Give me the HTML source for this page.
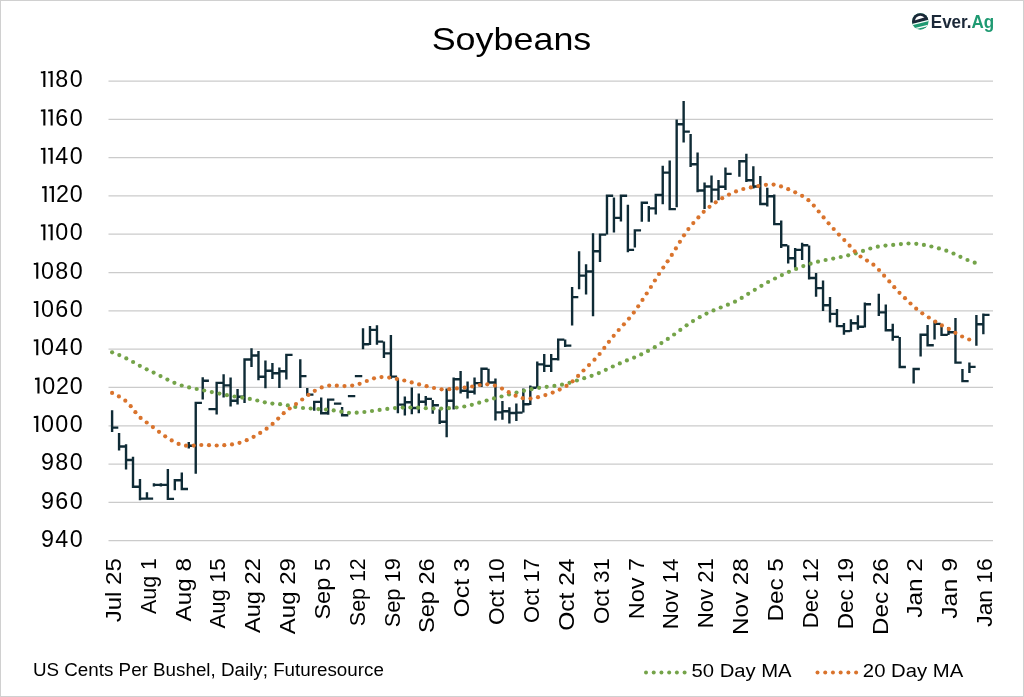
<!DOCTYPE html>
<html><head><meta charset="utf-8"><style>
html,body{margin:0;padding:0;background:#fff;}
body{width:1024px;height:697px;overflow:hidden;position:relative;}
svg{position:absolute;left:0;top:0;will-change:transform;}
text{font-family:"Liberation Sans",sans-serif;fill:#000;}
</style></head><body>
<svg width="1024" height="697" viewBox="0 0 1024 697">
<rect x="0.5" y="0.5" width="1023" height="696" fill="#fff" stroke="#d0d0d0" stroke-width="1"/>
<g stroke="#cbcbcb" stroke-width="1.25"><line x1="108.5" x2="993" y1="81.00" y2="81.00"/><line x1="108.5" x2="993" y1="119.31" y2="119.31"/><line x1="108.5" x2="993" y1="157.62" y2="157.62"/><line x1="108.5" x2="993" y1="195.93" y2="195.93"/><line x1="108.5" x2="993" y1="234.24" y2="234.24"/><line x1="108.5" x2="993" y1="272.55" y2="272.55"/><line x1="108.5" x2="993" y1="310.86" y2="310.86"/><line x1="108.5" x2="993" y1="349.17" y2="349.17"/><line x1="108.5" x2="993" y1="387.48" y2="387.48"/><line x1="108.5" x2="993" y1="425.79" y2="425.79"/><line x1="108.5" x2="993" y1="464.10" y2="464.10"/><line x1="108.5" x2="993" y1="502.41" y2="502.41"/><line x1="108.5" x2="993" y1="540.72" y2="540.72"/></g>
<path d="M112.10 410.3V432.0M110.90 427.6H118.30M119.07 433.1V450.5M117.87 446.5H125.27M126.04 444.2V469.4M124.84 460.0H132.24M133.01 456.8V486.8M131.81 486.8H139.21M139.98 478.9V500.2M138.78 498.6H146.18M146.95 492.3V498.6M145.75 498.6H153.15M153.92 483.3V486.5M152.72 484.9H160.12M160.89 483.3V486.5M159.69 484.9H167.09M167.86 468.9V498.9M166.66 498.9H174.06M174.83 480.3V490.3M173.63 480.3H181.03M181.80 472.6V489.0M180.60 489.0H188.00M188.77 442.0V448.6M187.57 445.8H194.97M195.74 402.9V473.8M194.54 402.9H201.94M202.71 377.2V399.4M201.51 380.8H208.91M209.68 408.1V410.1M208.48 409.1H215.88M216.65 382.5V414.4M215.45 382.9H222.85M223.62 374.3V397.6M222.42 385.4H229.82M230.59 377.5V406.6M229.39 400.8H236.79M237.56 389.0V404.4M236.36 396.8H243.76M244.53 358.9V403.1M243.33 359.5H250.73M251.50 348.3V367.0M250.30 355.5H257.70M258.47 350.9V380.2M257.27 376.7H264.67M265.44 360.4V388.2M264.24 370.8H271.64M272.41 363.0V379.0M271.21 373.3H278.61M279.38 367.5V388.0M278.18 371.2H285.58M286.35 354.9V379.6M285.15 354.9H292.55M300.29 359.3V388.0M299.09 376.1H306.49M307.26 388.1V395.1M306.06 394.6H313.46M314.23 401.6V410.7M313.03 401.9H320.43M321.20 397.6V413.7M320.00 413.2H327.40M328.17 399.6V414.7M326.97 399.6H334.37M335.14 402.6V404.6M333.94 403.6H341.34M342.11 407.1V415.2M340.91 415.2H348.31M349.08 395.1V397.1M347.88 396.1H355.28M356.05 375.1V377.1M354.85 376.1H362.25M363.02 328.2V349.2M361.82 344.3H369.22M369.99 325.9V345.1M368.79 329.9H376.19M376.96 325.3V344.8M375.76 341.6H383.16M383.93 341.4V358.0M382.73 353.4H390.13M390.90 335.1V378.7M389.70 376.6H397.10M397.87 378.2V413.2M396.67 404.6H404.07M404.84 396.6V415.5M403.64 402.3H411.04M411.81 387.4V414.3M410.61 408.0H418.01M418.78 393.5V413.2M417.58 401.7H424.98M425.75 396.0V405.7M424.55 398.9H431.95M432.72 400.0V413.8M431.52 405.2H438.92M439.69 409.2V424.1M438.49 421.8H445.89M446.66 388.5V437.3M445.46 400.8H452.86M453.63 377.5V409.5M452.43 379.3H459.83M460.60 371.1V393.4M459.40 390.8H466.80M467.57 381.6V398.6M466.37 391.7H473.77M474.54 377.4V394.6M473.34 383.1H480.74M481.51 368.5V387.1M480.31 368.8H487.71M488.48 368.8V382.5M487.28 382.5H494.68M495.45 378.5V420.4M494.25 412.4H501.65M502.42 400.9V419.8M501.22 411.2H508.62M509.39 407.2V423.6M508.19 413.0H515.59M516.36 403.5V420.9M515.16 412.6H522.56M523.33 388.5V412.6M522.13 404.3H529.53M530.30 385.5V405.0M529.10 387.7H536.50M537.27 361.4V387.7M536.07 364.4H543.47M544.24 353.9V371.9M543.04 365.9H550.44M551.21 353.9V371.9M550.01 359.1H557.41M558.18 339.6V360.6M556.98 339.6H564.38M565.15 339.6V347.1M563.95 345.6H571.35M572.12 287.1V325.6M570.92 297.1H578.32M579.09 251.3V289.2M577.89 275.6H585.29M586.06 264.2V294.4M584.86 271.5H592.26M593.03 233.3V316.3M591.83 251.3H599.23M600.00 234.6V262.1M598.80 234.6H606.20M606.97 195.8V234.6M605.77 195.8H613.17M613.94 197.5V232.5M612.74 217.9H620.14M620.91 195.8V221.5M619.71 195.8H627.11M627.88 204.8V252.3M626.68 249.9H634.08M634.85 230.4V247.4M633.65 230.4H641.05M641.82 202.3V221.8M640.62 202.8H648.02M648.79 206.0V221.8M647.59 208.4H654.99M655.76 195.0V214.5M654.56 195.0H661.96M662.73 165.7V204.3M661.53 172.6H668.93M669.70 160.4V209.6M668.50 209.1H675.90M676.67 119.4V207.2M675.47 124.3H682.87M683.64 101.1V142.5M682.44 131.6H689.84M690.61 134.0V167.0M689.41 164.3H696.81M697.58 152.6V192.2M696.38 190.5H703.78M704.55 182.5V208.9M703.35 186.5H710.75M711.52 175.6V202.5M710.32 189.6H717.72M718.49 179.9V200.2M717.29 186.8H724.69M725.46 167.5V189.9M724.26 173.9H731.66M739.40 160.7V176.7M738.20 161.2H745.60M746.37 153.8V181.9M745.17 180.2H752.57M753.34 166.2V188.6M752.14 186.5H759.54M760.31 176.0V204.0M759.11 204.0H766.51M767.28 187.7V206.6M766.08 196.3H773.48M774.25 194.6V224.7M773.05 224.1H780.45M781.22 220.4V247.9M780.02 245.3H787.42M788.19 245.3V263.4M786.99 258.2H794.39M795.16 247.9V267.7M793.96 249.9H801.36M802.13 242.7V259.9M800.93 245.3H808.33M809.10 245.5V279.4M807.90 278.0H815.30M816.07 273.0V296.7M814.87 288.1H822.27M823.04 280.5V311.0M821.84 305.3H829.24M830.01 297.1V322.5M828.81 313.9H836.21M836.98 308.9V327.2M835.78 326.1H843.18M843.95 322.9V334.7M842.75 331.1H850.15M850.92 319.2V331.8M849.72 323.2H857.12M857.89 315.3V329.7M856.69 326.8H864.09M864.86 302.4V327.5M863.66 304.3H871.06M878.80 293.7V315.9M877.60 312.4H885.00M885.77 304.6V330.9M884.57 330.2H891.97M892.74 323.8V340.7M891.54 336.9H898.94M899.71 336.9V367.0M898.51 367.0H905.91M913.65 368.5V383.6M912.45 369.0H919.85M920.62 334.7V356.5M919.42 334.7H926.82M927.59 325.0V345.2M926.39 345.2H933.79M934.56 320.7V339.4M933.36 323.9H940.76M941.53 325.2V335.5M940.33 334.9H947.73M948.50 327.1V334.9M947.30 332.3H954.70M955.47 318.1V362.6M954.27 362.6H961.67M962.44 369.1V381.4M961.24 381.1H968.64M969.41 362.6V373.0M968.21 366.9H975.61M976.38 314.9V345.8M975.18 324.3H982.58M983.35 313.6V334.2M982.15 314.9H989.55" stroke="#0f2b36" stroke-width="2.4" fill="none"/>
<g fill="#74a349"><circle cx="112.1" cy="352.3" r="2.1"/><circle cx="119.3" cy="355.1" r="2.1"/><circle cx="126.3" cy="358.4" r="2.1"/><circle cx="133.1" cy="362.0" r="2.1"/><circle cx="139.8" cy="365.8" r="2.1"/><circle cx="146.7" cy="369.3" r="2.1"/><circle cx="153.6" cy="372.6" r="2.1"/><circle cx="160.5" cy="376.1" r="2.1"/><circle cx="167.4" cy="379.6" r="2.1"/><circle cx="174.4" cy="382.8" r="2.1"/><circle cx="181.7" cy="385.5" r="2.1"/><circle cx="189.1" cy="387.4" r="2.1"/><circle cx="196.7" cy="389.0" r="2.1"/><circle cx="204.2" cy="390.5" r="2.1"/><circle cx="211.8" cy="392.1" r="2.1"/><circle cx="219.4" cy="393.6" r="2.1"/><circle cx="226.9" cy="395.2" r="2.1"/><circle cx="234.5" cy="396.5" r="2.1"/><circle cx="242.2" cy="397.6" r="2.1"/><circle cx="249.8" cy="398.9" r="2.1"/><circle cx="257.3" cy="400.5" r="2.1"/><circle cx="264.8" cy="402.3" r="2.1"/><circle cx="272.4" cy="403.6" r="2.1"/><circle cx="280.1" cy="404.2" r="2.1"/><circle cx="287.8" cy="405.4" r="2.1"/><circle cx="295.3" cy="407.0" r="2.1"/><circle cx="303.0" cy="408.0" r="2.1"/><circle cx="310.7" cy="408.5" r="2.1"/><circle cx="318.4" cy="409.1" r="2.1"/><circle cx="326.0" cy="409.6" r="2.1"/><circle cx="333.7" cy="410.4" r="2.1"/><circle cx="341.3" cy="411.7" r="2.1"/><circle cx="349.0" cy="412.8" r="2.1"/><circle cx="356.7" cy="412.7" r="2.1"/><circle cx="364.4" cy="412.0" r="2.1"/><circle cx="372.0" cy="411.0" r="2.1"/><circle cx="379.6" cy="409.9" r="2.1"/><circle cx="387.3" cy="408.9" r="2.1"/><circle cx="395.0" cy="408.1" r="2.1"/><circle cx="402.7" cy="407.6" r="2.1"/><circle cx="410.4" cy="407.5" r="2.1"/><circle cx="418.1" cy="407.7" r="2.1"/><circle cx="425.8" cy="408.2" r="2.1"/><circle cx="433.5" cy="408.6" r="2.1"/><circle cx="441.2" cy="408.6" r="2.1"/><circle cx="448.9" cy="408.2" r="2.1"/><circle cx="456.6" cy="407.5" r="2.1"/><circle cx="464.3" cy="406.5" r="2.1"/><circle cx="471.8" cy="404.8" r="2.1"/><circle cx="479.2" cy="402.7" r="2.1"/><circle cx="486.6" cy="400.5" r="2.1"/><circle cx="494.0" cy="398.4" r="2.1"/><circle cx="501.5" cy="396.5" r="2.1"/><circle cx="509.0" cy="394.5" r="2.1"/><circle cx="516.5" cy="392.6" r="2.1"/><circle cx="524.0" cy="390.8" r="2.1"/><circle cx="531.5" cy="389.2" r="2.1"/><circle cx="539.1" cy="387.8" r="2.1"/><circle cx="546.7" cy="386.8" r="2.1"/><circle cx="554.4" cy="385.9" r="2.1"/><circle cx="562.0" cy="384.7" r="2.1"/><circle cx="569.5" cy="382.8" r="2.1"/><circle cx="576.9" cy="380.5" r="2.1"/><circle cx="584.2" cy="378.2" r="2.1"/><circle cx="591.6" cy="375.8" r="2.1"/><circle cx="598.8" cy="373.1" r="2.1"/><circle cx="605.8" cy="369.8" r="2.1"/><circle cx="612.8" cy="366.5" r="2.1"/><circle cx="619.8" cy="363.4" r="2.1"/><circle cx="626.9" cy="360.4" r="2.1"/><circle cx="634.1" cy="357.6" r="2.1"/><circle cx="641.2" cy="354.4" r="2.1"/><circle cx="648.0" cy="350.9" r="2.1"/><circle cx="654.8" cy="347.2" r="2.1"/><circle cx="661.4" cy="343.1" r="2.1"/><circle cx="667.8" cy="338.9" r="2.1"/><circle cx="674.1" cy="334.5" r="2.1"/><circle cx="680.3" cy="329.9" r="2.1"/><circle cx="686.6" cy="325.3" r="2.1"/><circle cx="693.0" cy="321.1" r="2.1"/><circle cx="699.7" cy="317.2" r="2.1"/><circle cx="706.5" cy="313.6" r="2.1"/><circle cx="713.5" cy="310.4" r="2.1"/><circle cx="720.7" cy="307.5" r="2.1"/><circle cx="727.9" cy="304.7" r="2.1"/><circle cx="735.0" cy="301.7" r="2.1"/><circle cx="741.7" cy="297.9" r="2.1"/><circle cx="748.2" cy="293.8" r="2.1"/><circle cx="754.8" cy="289.8" r="2.1"/><circle cx="761.4" cy="285.8" r="2.1"/><circle cx="768.1" cy="282.0" r="2.1"/><circle cx="775.0" cy="278.5" r="2.1"/><circle cx="781.9" cy="275.1" r="2.1"/><circle cx="788.9" cy="271.8" r="2.1"/><circle cx="796.1" cy="268.9" r="2.1"/><circle cx="803.3" cy="266.1" r="2.1"/><circle cx="810.6" cy="263.7" r="2.1"/><circle cx="818.0" cy="261.7" r="2.1"/><circle cx="825.6" cy="260.0" r="2.1"/><circle cx="833.2" cy="258.6" r="2.1"/><circle cx="840.7" cy="257.0" r="2.1"/><circle cx="848.2" cy="255.3" r="2.1"/><circle cx="855.7" cy="253.3" r="2.1"/><circle cx="863.0" cy="250.9" r="2.1"/><circle cx="870.3" cy="248.5" r="2.1"/><circle cx="877.8" cy="246.7" r="2.1"/><circle cx="885.5" cy="245.6" r="2.1"/><circle cx="893.2" cy="244.9" r="2.1"/><circle cx="900.9" cy="244.1" r="2.1"/><circle cx="908.5" cy="243.5" r="2.1"/><circle cx="916.3" cy="243.8" r="2.1"/><circle cx="923.9" cy="244.9" r="2.1"/><circle cx="931.4" cy="246.5" r="2.1"/><circle cx="938.9" cy="248.4" r="2.1"/><circle cx="946.3" cy="250.7" r="2.1"/><circle cx="953.5" cy="253.5" r="2.1"/><circle cx="960.4" cy="256.8" r="2.1"/><circle cx="967.5" cy="260.0" r="2.1"/><circle cx="974.7" cy="262.7" r="2.1"/></g>
<g fill="#d9732c"><circle cx="112.1" cy="392.9" r="2.1"/><circle cx="118.9" cy="396.4" r="2.1"/><circle cx="125.3" cy="400.7" r="2.1"/><circle cx="130.7" cy="406.2" r="2.1"/><circle cx="135.4" cy="412.2" r="2.1"/><circle cx="140.6" cy="417.9" r="2.1"/><circle cx="146.7" cy="422.5" r="2.1"/><circle cx="152.9" cy="427.1" r="2.1"/><circle cx="159.0" cy="431.8" r="2.1"/><circle cx="165.2" cy="436.3" r="2.1"/><circle cx="171.7" cy="440.4" r="2.1"/><circle cx="178.6" cy="443.9" r="2.1"/><circle cx="186.0" cy="445.7" r="2.1"/><circle cx="193.7" cy="445.6" r="2.1"/><circle cx="201.3" cy="445.0" r="2.1"/><circle cx="209.0" cy="445.2" r="2.1"/><circle cx="216.7" cy="445.5" r="2.1"/><circle cx="224.3" cy="445.2" r="2.1"/><circle cx="232.0" cy="444.4" r="2.1"/><circle cx="239.5" cy="442.8" r="2.1"/><circle cx="246.7" cy="440.2" r="2.1"/><circle cx="253.6" cy="436.8" r="2.1"/><circle cx="260.2" cy="432.9" r="2.1"/><circle cx="266.6" cy="428.7" r="2.1"/><circle cx="272.6" cy="423.9" r="2.1"/><circle cx="278.2" cy="418.6" r="2.1"/><circle cx="283.7" cy="413.2" r="2.1"/><circle cx="289.7" cy="408.5" r="2.1"/><circle cx="296.0" cy="404.1" r="2.1"/><circle cx="302.2" cy="399.5" r="2.1"/><circle cx="308.4" cy="394.9" r="2.1"/><circle cx="314.8" cy="390.8" r="2.1"/><circle cx="321.7" cy="387.4" r="2.1"/><circle cx="329.2" cy="385.6" r="2.1"/><circle cx="336.8" cy="385.7" r="2.1"/><circle cx="344.5" cy="386.1" r="2.1"/><circle cx="352.2" cy="385.6" r="2.1"/><circle cx="359.6" cy="383.8" r="2.1"/><circle cx="366.8" cy="381.0" r="2.1"/><circle cx="374.0" cy="378.3" r="2.1"/><circle cx="381.5" cy="377.1" r="2.1"/><circle cx="389.2" cy="377.6" r="2.1"/><circle cx="396.8" cy="378.9" r="2.1"/><circle cx="404.3" cy="380.5" r="2.1"/><circle cx="411.7" cy="382.4" r="2.1"/><circle cx="419.1" cy="384.4" r="2.1"/><circle cx="426.6" cy="386.2" r="2.1"/><circle cx="434.0" cy="388.0" r="2.1"/><circle cx="441.6" cy="389.3" r="2.1"/><circle cx="449.3" cy="389.2" r="2.1"/><circle cx="456.9" cy="388.4" r="2.1"/><circle cx="464.6" cy="387.6" r="2.1"/><circle cx="472.2" cy="386.5" r="2.1"/><circle cx="479.7" cy="385.0" r="2.1"/><circle cx="487.3" cy="384.3" r="2.1"/><circle cx="494.9" cy="385.6" r="2.1"/><circle cx="502.0" cy="388.6" r="2.1"/><circle cx="508.7" cy="392.2" r="2.1"/><circle cx="515.6" cy="395.7" r="2.1"/><circle cx="522.8" cy="398.2" r="2.1"/><circle cx="530.5" cy="398.6" r="2.1"/><circle cx="538.0" cy="397.2" r="2.1"/><circle cx="545.4" cy="395.1" r="2.1"/><circle cx="552.7" cy="392.6" r="2.1"/><circle cx="559.7" cy="389.6" r="2.1"/><circle cx="566.5" cy="385.9" r="2.1"/><circle cx="572.6" cy="381.3" r="2.1"/><circle cx="578.1" cy="375.9" r="2.1"/><circle cx="583.5" cy="370.5" r="2.1"/><circle cx="589.0" cy="365.1" r="2.1"/><circle cx="594.5" cy="359.7" r="2.1"/><circle cx="599.6" cy="354.0" r="2.1"/><circle cx="604.3" cy="347.9" r="2.1"/><circle cx="608.9" cy="341.8" r="2.1"/><circle cx="613.7" cy="335.8" r="2.1"/><circle cx="618.7" cy="330.0" r="2.1"/><circle cx="623.9" cy="324.3" r="2.1"/><circle cx="629.0" cy="318.6" r="2.1"/><circle cx="633.8" cy="312.6" r="2.1"/><circle cx="638.2" cy="306.3" r="2.1"/><circle cx="642.5" cy="299.9" r="2.1"/><circle cx="646.7" cy="293.5" r="2.1"/><circle cx="650.9" cy="287.0" r="2.1"/><circle cx="654.9" cy="280.5" r="2.1"/><circle cx="659.0" cy="274.0" r="2.1"/><circle cx="663.3" cy="267.6" r="2.1"/><circle cx="667.6" cy="261.3" r="2.1"/><circle cx="671.8" cy="254.9" r="2.1"/><circle cx="675.9" cy="248.4" r="2.1"/><circle cx="679.9" cy="241.8" r="2.1"/><circle cx="684.0" cy="235.3" r="2.1"/><circle cx="688.4" cy="229.1" r="2.1"/><circle cx="693.3" cy="223.1" r="2.1"/><circle cx="698.4" cy="217.4" r="2.1"/><circle cx="703.7" cy="211.8" r="2.1"/><circle cx="709.5" cy="206.8" r="2.1"/><circle cx="715.7" cy="202.3" r="2.1"/><circle cx="722.2" cy="198.2" r="2.1"/><circle cx="729.0" cy="194.6" r="2.1"/><circle cx="736.0" cy="191.4" r="2.1"/><circle cx="743.3" cy="189.0" r="2.1"/><circle cx="750.8" cy="187.4" r="2.1"/><circle cx="758.3" cy="186.1" r="2.1"/><circle cx="765.9" cy="184.8" r="2.1"/><circle cx="773.6" cy="184.6" r="2.1"/><circle cx="781.0" cy="186.4" r="2.1"/><circle cx="788.2" cy="189.2" r="2.1"/><circle cx="795.2" cy="192.3" r="2.1"/><circle cx="802.1" cy="195.8" r="2.1"/><circle cx="808.4" cy="200.2" r="2.1"/><circle cx="813.8" cy="205.6" r="2.1"/><circle cx="818.7" cy="211.5" r="2.1"/><circle cx="823.6" cy="217.4" r="2.1"/><circle cx="828.6" cy="223.3" r="2.1"/><circle cx="833.7" cy="229.0" r="2.1"/><circle cx="838.9" cy="234.6" r="2.1"/><circle cx="844.3" cy="240.1" r="2.1"/><circle cx="849.6" cy="245.7" r="2.1"/><circle cx="854.8" cy="251.3" r="2.1"/><circle cx="860.5" cy="256.5" r="2.1"/><circle cx="867.0" cy="260.6" r="2.1"/><circle cx="873.4" cy="264.7" r="2.1"/><circle cx="879.0" cy="270.0" r="2.1"/><circle cx="884.1" cy="275.7" r="2.1"/><circle cx="889.3" cy="281.4" r="2.1"/><circle cx="894.3" cy="287.2" r="2.1"/><circle cx="899.5" cy="292.8" r="2.1"/><circle cx="905.0" cy="298.2" r="2.1"/><circle cx="910.5" cy="303.5" r="2.1"/><circle cx="916.2" cy="308.7" r="2.1"/><circle cx="922.3" cy="313.3" r="2.1"/><circle cx="928.8" cy="317.5" r="2.1"/><circle cx="935.3" cy="321.6" r="2.1"/><circle cx="941.9" cy="325.4" r="2.1"/><circle cx="948.8" cy="328.9" r="2.1"/><circle cx="955.4" cy="332.8" r="2.1"/><circle cx="962.1" cy="336.5" r="2.1"/><circle cx="969.2" cy="339.5" r="2.1"/></g>
<text x="431.69" textLength="159.59" lengthAdjust="spacingAndGlyphs" y="49.7" style="font-size:32px">Soybeans</text>
<g style="font-size:23.3px" text-anchor="middle"><text x="61.85" y="87.20">8</text><text x="76.25" y="87.20">0</text><text x="61.85" y="125.51">6</text><text x="76.25" y="125.51">0</text><text x="61.85" y="163.82">4</text><text x="76.25" y="163.82">0</text><text x="62.45" y="202.13">2</text><text x="76.25" y="202.13">0</text><text x="61.85" y="240.44">0</text><text x="76.25" y="240.44">0</text><text x="47.45" y="278.75">0</text><text x="61.85" y="278.75">8</text><text x="76.25" y="278.75">0</text><text x="47.45" y="317.06">0</text><text x="61.85" y="317.06">6</text><text x="76.25" y="317.06">0</text><text x="47.45" y="355.37">0</text><text x="61.85" y="355.37">4</text><text x="76.25" y="355.37">0</text><text x="48.65" y="393.68">0</text><text x="62.45" y="393.68">2</text><text x="76.25" y="393.68">0</text><text x="47.45" y="431.99">0</text><text x="61.85" y="431.99">0</text><text x="76.25" y="431.99">0</text><text x="47.45" y="470.30">9</text><text x="61.85" y="470.30">8</text><text x="76.25" y="470.30">0</text><text x="47.45" y="508.61">9</text><text x="61.85" y="508.61">6</text><text x="76.25" y="508.61">0</text><text x="47.45" y="546.92">9</text><text x="61.85" y="546.92">4</text><text x="76.25" y="546.92">0</text></g><path d="M43.30 71.05H45.40V87.10H43.30ZM40.85 71.45L43.35 71.05V72.95L40.85 73.25ZM50.60 71.05H52.70V87.10H50.60ZM48.15 71.45L50.65 71.05V72.95L48.15 73.25ZM43.30 109.36H45.40V125.41H43.30ZM40.85 109.76L43.35 109.36V111.26L40.85 111.56ZM50.60 109.36H52.70V125.41H50.60ZM48.15 109.76L50.65 109.36V111.26L48.15 111.56ZM43.30 147.67H45.40V163.72H43.30ZM40.85 148.07L43.35 147.67V149.57L40.85 149.87ZM50.60 147.67H52.70V163.72H50.60ZM48.15 148.07L50.65 147.67V149.57L48.15 149.87ZM44.50 185.98H46.60V202.03H44.50ZM42.05 186.38L44.55 185.98V187.88L42.05 188.18ZM51.80 185.98H53.90V202.03H51.80ZM49.35 186.38L51.85 185.98V187.88L49.35 188.18ZM43.30 224.29H45.40V240.34H43.30ZM40.85 224.69L43.35 224.29V226.19L40.85 226.49ZM50.60 224.29H52.70V240.34H50.60ZM48.15 224.69L50.65 224.29V226.19L48.15 226.49ZM36.20 262.60H38.30V278.65H36.20ZM33.75 263.00L36.25 262.60V264.50L33.75 264.80ZM36.20 300.91H38.30V316.96H36.20ZM33.75 301.31L36.25 300.91V302.81L33.75 303.11ZM36.20 339.22H38.30V355.27H36.20ZM33.75 339.62L36.25 339.22V341.12L33.75 341.42ZM37.40 377.53H39.50V393.58H37.40ZM34.95 377.93L37.45 377.53V379.43L34.95 379.73ZM36.20 415.84H38.30V431.89H36.20ZM33.75 416.24L36.25 415.84V417.74L33.75 418.04Z" fill="#000"/>
<g style="font-size:22.5px" text-anchor="end"><text transform="translate(120.8,558.15) rotate(-90)" textLength="64.11" lengthAdjust="spacingAndGlyphs">Jul 25</text><text transform="translate(155.6,558.17) rotate(-90)" textLength="55.83" lengthAdjust="spacingAndGlyphs">Aug 1</text><text transform="translate(190.5,558.15) rotate(-90)" textLength="63.25" lengthAdjust="spacingAndGlyphs">Aug 8</text><text transform="translate(225.3,558.32) rotate(-90)" textLength="70.28" lengthAdjust="spacingAndGlyphs">Aug 15</text><text transform="translate(260.2,558.15) rotate(-90)" textLength="74.95" lengthAdjust="spacingAndGlyphs">Aug 22</text><text transform="translate(295.1,558.13) rotate(-90)" textLength="76.07" lengthAdjust="spacingAndGlyphs">Aug 29</text><text transform="translate(329.9,558.18) rotate(-90)" textLength="61.38" lengthAdjust="spacingAndGlyphs">Sep 5</text><text transform="translate(364.7,558.25) rotate(-90)" textLength="67.92" lengthAdjust="spacingAndGlyphs">Sep 12</text><text transform="translate(399.6,558.23) rotate(-90)" textLength="69.15" lengthAdjust="spacingAndGlyphs">Sep 19</text><text transform="translate(434.4,558.27) rotate(-90)" textLength="74.79" lengthAdjust="spacingAndGlyphs">Sep 26</text><text transform="translate(469.3,558.22) rotate(-90)" textLength="59.20" lengthAdjust="spacingAndGlyphs">Oct 3</text><text transform="translate(504.1,558.39) rotate(-90)" textLength="66.73" lengthAdjust="spacingAndGlyphs">Oct 10</text><text transform="translate(539.0,558.19) rotate(-90)" textLength="64.69" lengthAdjust="spacingAndGlyphs">Oct 17</text><text transform="translate(573.9,558.57) rotate(-90)" textLength="72.24" lengthAdjust="spacingAndGlyphs">Oct 24</text><text transform="translate(608.7,558.18) rotate(-90)" textLength="65.83" lengthAdjust="spacingAndGlyphs">Oct 31</text><text transform="translate(643.6,558.09) rotate(-90)" textLength="61.18" lengthAdjust="spacingAndGlyphs">Nov 7</text><text transform="translate(678.4,558.56) rotate(-90)" textLength="70.72" lengthAdjust="spacingAndGlyphs">Nov 14</text><text transform="translate(713.2,558.13) rotate(-90)" textLength="70.04" lengthAdjust="spacingAndGlyphs">Nov 21</text><text transform="translate(748.1,558.14) rotate(-90)" textLength="76.90" lengthAdjust="spacingAndGlyphs">Nov 28</text><text transform="translate(783.0,558.17) rotate(-90)" textLength="63.37" lengthAdjust="spacingAndGlyphs">Dec 5</text><text transform="translate(817.8,558.13) rotate(-90)" textLength="70.04" lengthAdjust="spacingAndGlyphs">Dec 12</text><text transform="translate(852.7,558.11) rotate(-90)" textLength="71.19" lengthAdjust="spacingAndGlyphs">Dec 19</text><text transform="translate(887.5,558.14) rotate(-90)" textLength="76.90" lengthAdjust="spacingAndGlyphs">Dec 26</text><text transform="translate(922.4,558.07) rotate(-90)" textLength="59.70" lengthAdjust="spacingAndGlyphs">Jan 2</text><text transform="translate(957.2,558.05) rotate(-90)" textLength="60.82" lengthAdjust="spacingAndGlyphs">Jan 9</text><text transform="translate(992.1,558.23) rotate(-90)" textLength="68.51" lengthAdjust="spacingAndGlyphs">Jan 16</text></g>
<text x="32.99" textLength="350.86" lengthAdjust="spacingAndGlyphs" y="675.7" style="font-size:17.6px">US Cents Per Bushel, Daily; Futuresource</text>
<g fill="#74a349"><circle cx="646.00" cy="672.4" r="2"/><circle cx="653.72" cy="672.4" r="2"/><circle cx="661.44" cy="672.4" r="2"/><circle cx="669.16" cy="672.4" r="2"/><circle cx="676.88" cy="672.4" r="2"/><circle cx="684.60" cy="672.4" r="2"/></g>
<text x="691.49" textLength="100.14" lengthAdjust="spacingAndGlyphs" y="677.3" style="font-size:19px">50 Day MA</text>
<g fill="#d9732c"><circle cx="817.50" cy="672.4" r="2"/><circle cx="825.22" cy="672.4" r="2"/><circle cx="832.94" cy="672.4" r="2"/><circle cx="840.66" cy="672.4" r="2"/><circle cx="848.38" cy="672.4" r="2"/><circle cx="856.10" cy="672.4" r="2"/></g>
<text x="862.89" textLength="100.34" lengthAdjust="spacingAndGlyphs" y="677.3" style="font-size:19px">20 Day MA</text>
<!-- logo -->
<g transform="translate(920.3,21.4)">
  <clipPath id="cc"><circle cx="0" cy="0" r="8.25"/></clipPath>
  <clipPath id="hc"><path d="M-9 -9H9V-5.42L-9 -0.02Z"/></clipPath>
  <g clip-path="url(#cc)">
    <rect x="-9" y="-9" width="18" height="18" fill="#1f9a72"/>
    <path d="M-9 -9H9V-1.714L-9 2.696Z" fill="#1b2838"/>
    <circle cx="0" cy="-0.3" r="5.3" fill="#fff" clip-path="url(#hc)"/>
    <path d="M-9 2.696L9 -1.714L9 -0.414L-9 3.996Z" fill="#fff"/>
    <path d="M-9 7.400L9 3.115L9 4.415L-9 8.700Z" fill="#fff"/>
  </g>
</g>
<text x="930.79" textLength="63.40" lengthAdjust="spacingAndGlyphs" y="27.5" style="font-size:17.5px;font-weight:bold"><tspan fill="#1b2838">Ever.</tspan><tspan fill="#1f9a72">Ag</tspan></text>
</svg>
</body></html>
